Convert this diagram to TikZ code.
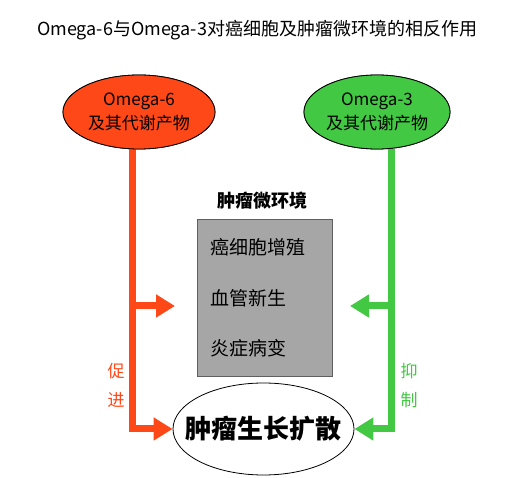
\documentclass[tikz,border=0pt]{standalone}
\usepackage{fontspec}
\setmainfont{Noto Sans CJK SC}
\usetikzlibrary{arrows.meta,shapes.geometric}
\definecolor{ored}{RGB}{255,72,24}
\definecolor{ogreen}{RGB}{66,200,66}
\definecolor{boxgray}{RGB}{166,166,166}
\definecolor{boxedge}{RGB}{95,95,95}
\tikzset{
  fs/.style={font=\fontsize{#1}{#1}\selectfont},
  bfs/.style={font=\bfseries\fontsize{#1}{#1}\selectfont},
  srcell/.style={ellipse, draw=black, line width=0.8pt, minimum width=152pt, minimum height=74pt, inner sep=0pt},
  srctext/.style={align=center, fs=17, text=black, inner sep=0pt},
  thick arrow/.style={line width=7pt, -{Triangle[length=19pt,width=22pt]}},
  sidelabel/.style={fs=17, inner sep=0pt},
  item/.style={anchor=west, fs=19, inner sep=0pt}
}
\begin{document}
\begin{tikzpicture}[x=1pt,y=-1pt]
\useasboundingbox (0,0) rectangle (515,478);
% title
\node[fs=18] (title) at (257,30) {Omega-6与Omega-3对癌细胞及肿瘤微环境的相反作用};
% coordinates for vertical lines
\coordinate (lx) at (132,0);
\coordinate (rx) at (391,0);
\coordinate (lt) at (175,306);
\coordinate (rt) at (350,306);
% microenvironment box
\node[draw=boxedge, fill=boxgray, line width=0.8pt, minimum width=135pt, minimum height=157pt, inner sep=0pt] (box) at (264.5,297.5) {};
\node[bfs=18, inner sep=0pt] (boxtitle) at (262,201) {肿瘤微环境};
\node[item] (i1) at (210,247) {癌细胞增殖};
\node[item] (i2) at (210,298) {血管新生};
\node[item] (i3) at (210,348) {炎症病变};
% bottom ellipse
\node[ellipse, draw=black, line width=0.8pt, fill=white, minimum width=181pt, minimum height=92pt, inner sep=0pt] (B) at (263.5,429) {};
\node[bfs=26, inner sep=0pt] (Btext) at (B.center) {肿瘤生长扩散};
% top ellipses
\node[srcell, fill=ored] (L) at (139,112) {};
\node[srcell, fill=ogreen, minimum width=146pt] (R) at (377,112) {};
% connectors
\draw[thick arrow, ored, line join=miter] (lx |- L.south) |- (B.west);
\draw[thick arrow, ored] (lx |- lt) -- (lt);
\draw[thick arrow, ogreen, line join=miter] (rx |- R.south) |- (B.east);
\draw[thick arrow, ogreen] (rx |- rt) -- (rt);
% redraw ellipses on top so lines start under their edge
\node[srcell, fill=ored] at (L) {};
\node[srcell, fill=ogreen, minimum width=146pt] at (R) {};
\node[srctext] (Ltext) at (L.center) {Omega-6\\[5pt]及其代谢产物};
\node[srctext] (Rtext) at (R.center) {Omega-3\\[5pt]及其代谢产物};
% labels
\node[sidelabel, text=ored] (p1) at (116,371) {促};
\node[sidelabel, text=ored] (p2) at (116,400) {进};
\node[sidelabel, text=ogreen] (y1) at (409,371) {抑};
\node[sidelabel, text=ogreen] (y2) at (409,400) {制};
\end{tikzpicture}
\end{document}
